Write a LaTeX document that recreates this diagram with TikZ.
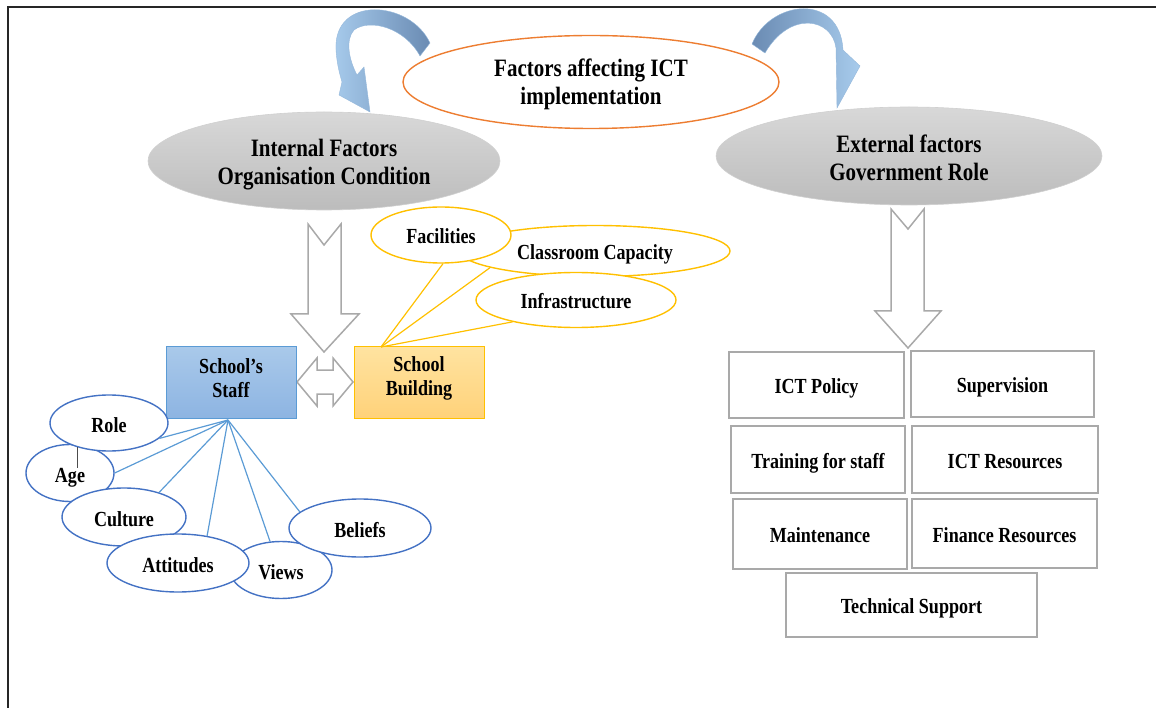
\documentclass[tikz,border=0pt]{standalone}
\usepackage{fontspec}
\setmainfont{Liberation Serif}[FakeStretch=0.84]
\usetikzlibrary{shapes.geometric}
\definecolor{orangeE}{HTML}{ED7D31}
\definecolor{yel}{HTML}{FFC000}
\definecolor{blueE}{HTML}{4472C4}
\definecolor{blueL}{HTML}{5B9BD5}
\definecolor{grayB}{HTML}{A9A9A9}
\definecolor{ellTop}{HTML}{D8D8D8}
\definecolor{ellBot}{HTML}{BCBCBC}
\definecolor{staffTop}{HTML}{A9C9EA}
\definecolor{staffBot}{HTML}{8DB4E2}
\definecolor{bldTop}{HTML}{FFE3A0}
\definecolor{bldBot}{HTML}{FFD27A}
\definecolor{arrDark}{HTML}{6A8BB3}
\definecolor{arrLight}{HTML}{A7CBEC}
\begin{document}
\begin{tikzpicture}[x=1pt,y=-1pt,
 big/.style={font=\fontsize{25}{28}\selectfont\bfseries},
 small/.style={font=\fontsize{21.5}{24}\selectfont\bfseries},
 ell/.style={ellipse, inner sep=0pt, align=center},
 grayell/.style={ell, big, top color=ellTop, bottom color=ellBot, draw=ellBot!70, line width=0.6pt},
 yell/.style={ell, small, draw=yel, fill=white, line width=1.4pt, text height=18pt, text depth=0pt},
 bell/.style={ell, small, draw=blueE, fill=white, line width=1.4pt, text height=18pt, text depth=0pt},
 gbox/.style={rectangle, small, draw=grayB, fill=white, line width=1.6pt, inner sep=0pt, text height=17pt, text depth=0pt},
 sbox/.style={rectangle, small, inner sep=0pt, line width=1pt, minimum width=130, minimum height=71},
 hollow/.style={draw=grayB, fill=white, line width=1.5pt, line join=miter},
 curved/.style={draw=arrLight!70!arrDark, line width=0.4pt},
 yline/.style={draw=yel, line width=1.2pt},
 bline/.style={draw=blueL, line width=1.2pt}]
\useasboundingbox (0,0) rectangle (1156,708);

% main ellipses
\node[grayell, minimum width=352, minimum height=98,
  label={[big, align=center, yshift=-4pt]center:Internal Factors\\Organisation Condition}] (int) at (324,161) {};
\node[grayell, minimum width=386, minimum height=98,
  label={[big, align=center, yshift=-2pt]center:External factors\\Government Role}] (ext) at (909,156) {};
\node[ell, big, draw=orangeE, fill=white, line width=1.4pt, minimum width=376, minimum height=93,
  label={[big, align=center, yshift=-2pt]center:Factors affecting ICT\\implementation}] (top) at (591,82) {};

% curved arrows
\path[curved, left color=arrLight, right color=arrDark]
  (430,43) .. controls (410,0) and (333,-5) .. (336,50)
  .. controls (337,65) and (340,75) .. (342,82)
  -- (339,95) -- (370,112) -- (364,67) -- (357,75)
  .. controls (349,60) and (345,40) .. (354,30)
  .. controls (370,18) and (405,28) .. (420,56) -- cycle;
\path[curved, left color=arrDark, right color=arrLight]
  (752,44) .. controls (770,0) and (840,-8) .. (843,50)
  -- (860,66) -- (837,108) -- (836,48)
  .. controls (832,18) and (790,10) .. (765,53) -- cycle;

% hollow block arrows
\draw[hollow] (308,224) -- (324,245) -- (341,224) -- (341,314) -- (359,314) -- (324,352) -- (291,314) -- (308,314) -- cycle;
\draw[hollow] (891,209) -- (908,229) -- (924,209) -- (924,311) -- (941,311) -- (908,348) -- (875,311) -- (891,311) -- cycle;
\draw[hollow] (297,382) -- (317,358) -- (317,370) -- (333,370) -- (333,358) -- (353,382) -- (333,406) -- (333,394) -- (317,394) -- (317,406) -- cycle;

% school boxes
\node[sbox, draw=blueL, top color=staffTop, bottom color=staffBot,
  label={[small, align=center, yshift=4pt]center:School’s\\Staff}] (staff) at (231,382.5) {};
\node[sbox, draw=yel, top color=bldTop, bottom color=bldBot,
  label={[small, align=center, yshift=4pt]center:School\\Building}] (bld) at (419,382.5) {};

% yellow ellipses
\node[yell, minimum width=270, minimum height=51] (cap) at (595,251) {Classroom Capacity};
\node[yell, minimum width=200, minimum height=55] (inf) at (576,300) {Infrastructure};
\node[yell, minimum width=140, minimum height=56] (fac) at (441,235) {Facilities};
\coordinate (bp) at (381,347);
\draw[yline] (bp) -- (fac.-86);
\draw[yline] (bp) -- (cap.189);
\draw[yline] (bp) -- (inf.199);

% blue ellipses
\node[bell, minimum width=88, minimum height=57] (age) at (70,473) {Age};
\node[bell, minimum width=118, minimum height=56] (role) at (109,423) {Role};
\node[bell, minimum width=124, minimum height=58] (cul) at (124,517) {Culture};
\node[bell, minimum width=102, minimum height=57] (views) at (281,570) {Views};
\node[bell, minimum width=142, minimum height=58] (bel) at (360,528) {Beliefs};
\node[bell, minimum width=142, minimum height=58] (att) at (178,563) {Attitudes};
\coordinate (tickA) at (77,447);
\draw[black!70, line width=0.6pt] (tickA) -- ++(0,21);
\coordinate (sp) at (228,420);
\draw[bline] (sp) -- (role.-17);
\draw[bline] (sp) -- (age.0);
\draw[bline] (sp) -- (cul.35);
\draw[bline] (sp) -- (att.43);
\draw[bline] (sp) -- (views.111);
\draw[bline] (sp) -- (bel.165);

% government boxes
\node[gbox, minimum width=175, minimum height=66] (pol) at (816.5,385) {ICT Policy};
\node[gbox, minimum width=183, minimum height=66] (sup) at (1002.5,384) {Supervision};
\node[gbox, minimum width=174, minimum height=67] (trn) at (818,459.5) {Training for staff};
\node[gbox, minimum width=186, minimum height=67] (res) at (1005,459.5) {ICT Resources};
\node[gbox, minimum width=174, minimum height=70] (mnt) at (820,534) {Maintenance};
\node[gbox, minimum width=185, minimum height=69] (fin) at (1004.5,533.5) {Finance Resources};
\node[gbox, minimum width=251, minimum height=64] (tec) at (911.5,605) {Technical Support};

% frame
\draw[line width=1.8pt, black!85] (8,708) -- (8,7) -- (1156,7);
\end{tikzpicture}
\end{document}
